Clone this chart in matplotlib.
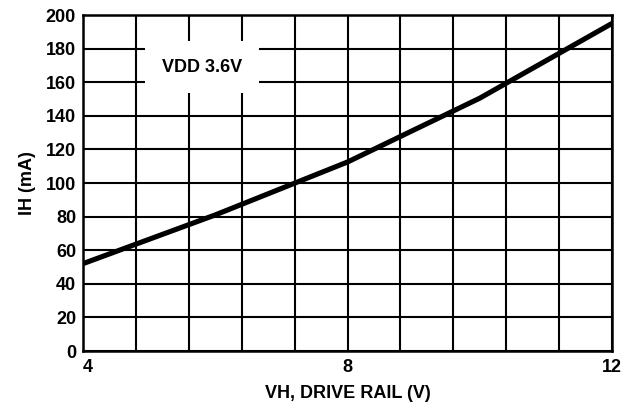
import numpy as np
import matplotlib
matplotlib.use("Agg")
import matplotlib.pyplot as plt

# data
vh = [4, 6, 8, 10, 12]
ih = [52, 81, 112.5, 150.5, 195]

x_major = [4, 8, 12]
y_ticks = list(range(0, 201, 20))

plt.rcParams['font.family'] = ['Liberation Sans', 'DejaVu Sans']
plt.rcParams['font.weight'] = 'bold'

fig = plt.figure(figsize=(6.36, 4.08), dpi=100)
ax = fig.add_axes([0.1305, 0.1397, 0.8318, 0.8235])

ax.plot(vh, ih, color='black', lw=3.7, solid_capstyle='butt', zorder=3)

ax.set_xlim(4, 12)
ax.set_ylim(0, 200)
ax.set_xticks(x_major)
ax.set_xticks(np.arange(4, 12.01, 0.8), minor=True)
ax.set_yticks(y_ticks)
ax.grid(True, which='both', color='black', lw=1.5)
ax.tick_params(which='both', length=0)
ax.tick_params(axis='x', pad=6, labelsize=13)
ax.tick_params(axis='y', pad=5, labelsize=13)
for lab in ax.get_xticklabels():
    lab.set_fontweight('bold')
ax.get_xticklabels()[0].set_ha('left')
for lab in ax.get_yticklabels():
    lab.set_fontweight('bold')
for sp in ax.spines.values():
    sp.set_linewidth(1.8)

ax.set_xlabel('VH, DRIVE RAIL (V)', fontsize=13, fontweight='bold', labelpad=6)
ax.set_ylabel('IH (mA)', fontsize=13, fontweight='bold', labelpad=7)

ax.text(5.8, 169, 'VDD 3.6V', fontsize=13, fontweight='bold', ha='center', va='center',
        zorder=4, bbox=dict(boxstyle='square,pad=0.95', fc='white', ec='none'))

fig.savefig('out.png', dpi=100)
